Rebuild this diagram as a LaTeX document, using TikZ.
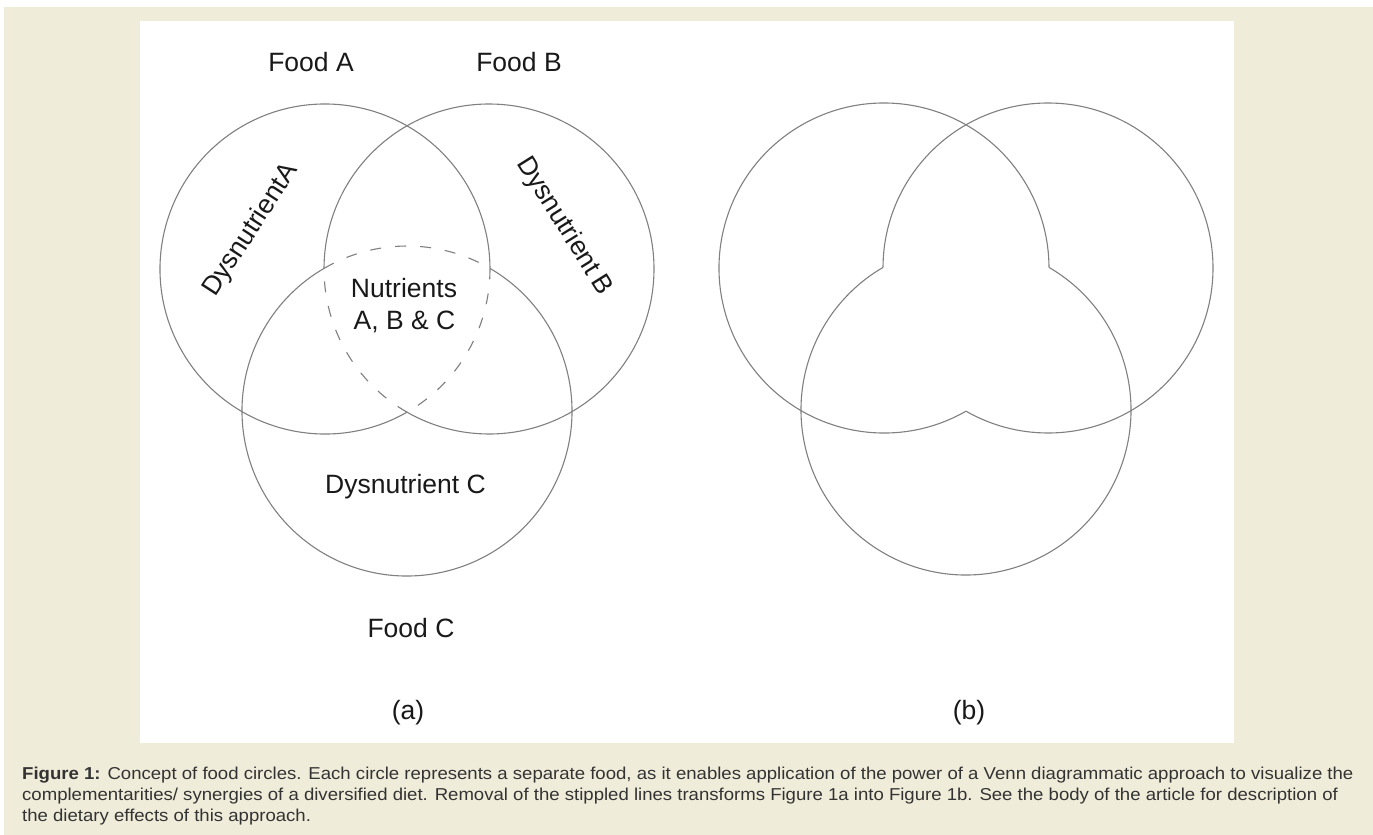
\documentclass[tikz,border=0pt]{standalone}
\usepackage{fontspec}
\setmainfont{Liberation Sans}
\newfontfamily\capfont[FakeStretch=1.08]{Liberation Sans}
\begin{document}
\begin{tikzpicture}[x=1pt,y=-1pt,
  circ/.style={draw=linegray, line width=1.1pt},
  dashcirc/.style={draw=linegray, line width=1.1pt, dash pattern=on 11pt off 14pt},
  lbl/.style={font=\fontsize{26.5}{30}\selectfont, text=black!90, inner sep=0pt},
  captext/.style={font=\capfont\fontsize{17.2}{21}\selectfont, text=black!80, inner sep=0pt, anchor=base west}]
\definecolor{beige}{RGB}{240,236,218}
\definecolor{linegray}{RGB}{128,128,128}
\useasboundingbox (0,0) rectangle (1373,835);
\fill[white] (0,0) rectangle (1373,835);
\fill[beige] (4,7) rectangle (1373,835);
\fill[white] (140,21) rectangle (1234,743);
% panel (a)
\coordinate (A) at (325,269);
\coordinate (B) at (489,269);
\coordinate (C) at (407,411);
\draw[circ] (A) ++(60.2:165) arc[start angle=60.2, end angle=359.8, radius=165];
\draw[dashcirc] (A) ++(-0.2:165) arc[start angle=-0.2, end angle=60.2, radius=165];
\draw[circ] (B) ++(180.2:165) arc[start angle=180.2, end angle=479.8, radius=165];
\draw[dashcirc] (B) ++(119.8:165) arc[start angle=119.8, end angle=180.2, radius=165];
\draw[circ] (C) ++(300.2:165) arc[start angle=300.2, end angle=599.8, radius=165];
\draw[dashcirc] (C) ++(239.8:165) arc[start angle=239.8, end angle=300.2, radius=165];
% panel (b)
\coordinate (A2) at (884,268);
\coordinate (B2) at (1048,268);
\coordinate (C2) at (966,410);
\draw[circ] (A2) ++(60.2:165) arc[start angle=60.2, end angle=359.8, radius=165];
\draw[circ] (B2) ++(180.2:165) arc[start angle=180.2, end angle=479.8, radius=165];
\draw[circ] (C2) ++(300.2:165) arc[start angle=300.2, end angle=599.8, radius=165];
% labels
\node[lbl] (fa) at (311,62) {Food A};
\node[lbl] (fb) at (519,62) {Food B};
\node[lbl] (nut) at (404,288) {Nutrients};
\node[lbl] (abc) at (404.5,322) {A, B \& C};
\node[lbl, rotate=57] (da) at (251,230) {Dysnutrient\kern0.04em A};
\node[lbl, rotate=-58] (db) at (564,226) {Dysnutrient\kern0.2em B};
\node[lbl] (dc) at (405.5,487) {Dysnutrient C};
\node[lbl] (fc) at (411,628) {Food C};
\node[lbl] (pa) at (408,713) {(a)};
\node[lbl] (pb) at (969,713) {(b)};
% caption
\node[captext] (c1) at (22,779) {\textbf{Figure 1:} Concept of food circles. Each circle represents a separate food, as it enables application of the power of a Venn diagrammatic approach to visualize the};
\node[captext] (c2) at (22,800) {complementarities/ synergies of a diversified diet. Removal of the stippled lines transforms Figure 1a into Figure 1b. See the body of the article for description of};
\node[captext] (c3) at (22,821) {the dietary effects of this approach.};
\end{tikzpicture}
\end{document}
